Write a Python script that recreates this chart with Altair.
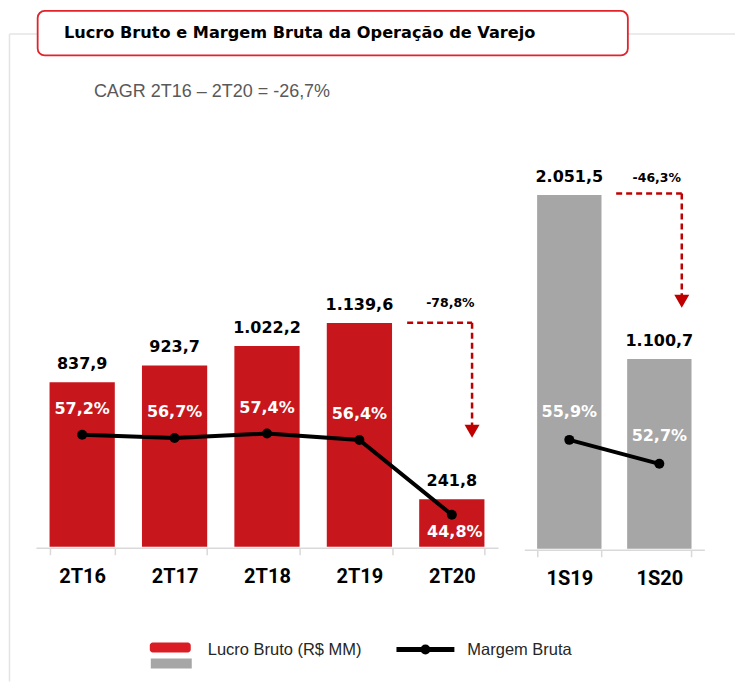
import altair as alt
import pandas as pd

# ---------------- data ----------------
periodos_trim = ["2T16", "2T17", "2T18", "2T19", "2T20"]
lucro_trim = [837.9, 923.7, 1022.2, 1139.6, 241.8]
margem_trim = [57.2, 56.7, 57.4, 56.4, 44.8]

periodos_sem = ["1S19", "1S20"]
lucro_sem = [2051.5, 1100.7]
margem_sem = [55.9, 52.7]

titulo = "Lucro Bruto e Margem Bruta da Operação de Varejo"
cagr_txt = "CAGR 2T16 – 2T20 = -26,7%"
var_trim_txt = "-78,8%"
var_sem_txt = "-46,3%"
leg_barras = "Lucro Bruto (R$ MM)"
leg_linha = "Margem Bruta"


def br(v):
    s = f"{v:,.1f}"
    return s.replace(",", "X").replace(".", ",").replace("X", ".")


def pct(v):
    return f"{v:.1f}".replace(".", ",") + "%"


trim = pd.DataFrame({"periodo": periodos_trim, "lucro": lucro_trim, "margem": margem_trim})
trim["lucro_txt"] = [br(v) for v in lucro_trim]
trim["margem_txt"] = [pct(v) for v in margem_trim]
sem = pd.DataFrame({"periodo": periodos_sem, "lucro": lucro_sem, "margem": margem_sem})
sem["lucro_txt"] = [br(v) for v in lucro_sem]
sem["margem_txt"] = [pct(v) for v in margem_sem]
one = pd.DataFrame({"k": [0]})

# ---------------- layout / style ----------------
OX, OY = 35, 60          # page position of plot origin


def px(x):
    return x - OX


def py(y):
    return y - OY


H = 487
W_L = 462.7
RED = "#C8161D"
GRAY = "#A6A6A6"
ARROW = "#C00000"
BOLD = "DejaVu Sans"
LABEL = "Roboto"
REG = "Liberation Sans"


def axis(offset, pad):
    return alt.Axis(title=None, orient="bottom", offset=offset, grid=False,
                    domainColor="#D9D9D9", domainWidth=1.5,
                    tickColor="#D9D9D9", tickWidth=1.5, tickSize=7, tickBand="extent",
                    labelFont=LABEL, labelFontSize=20, labelFontWeight="bold",
                    labelColor="black", labelPadding=pad, labelAngle=0)


sc_x_l = alt.Scale(domain=periodos_trim, range=[0, W_L], paddingInner=0.294, paddingOuter=0.147)
sc_x_r = alt.Scale(domain=periodos_sem, range=[489, 669.3], paddingInner=0.285, paddingOuter=0.1425)
sc_y_l = alt.Scale(domain=[0, 2477.6], range=[H, 0], nice=False)
sc_y_r = alt.Scale(domain=[0, 2831.5], range=[489, 0], nice=False)
sc_m_l = alt.Scale(domain=[40, 60], range=[485.9, 356.9], nice=False, zero=False)
sc_m_r = alt.Scale(domain=[40, 60], range=[499.25, 349.25], nice=False, zero=False)


def panel(df, sc_x, sc_y, sc_m, color, ax, mdy, special=None):
    xa = alt.X("periodo:N", sort=list(df["periodo"]), scale=sc_x, axis=ax)
    xn = alt.X("periodo:N", sort=list(df["periodo"]), scale=sc_x, axis=None)
    y = alt.Y("lucro:Q", scale=sc_y, axis=None)
    ym = alt.Y("margem:Q", scale=sc_m, axis=None)
    base = alt.Chart(df)
    layers = [
        base.mark_bar(color=color).encode(x=xa, y=y),
        base.mark_text(font=BOLD, fontWeight="bold", fontSize=16, dy=-18,
                       baseline="middle", color="black").encode(x=xn, y=y, text="lucro_txt"),
        base.mark_line(color="black", strokeWidth=4).encode(x=xn, y=ym),
        base.mark_circle(color="black", size=100, opacity=1).encode(x=xn, y=ym),
    ]
    if special is None:
        layers.append(base.mark_text(font=BOLD, fontWeight="bold", fontSize=16, dy=mdy,
                                     baseline="middle", color="white").encode(x=xn, y=ym, text="margem_txt"))
    else:
        layers.append(base.mark_text(font=BOLD, fontWeight="bold", fontSize=16, dy=mdy,
                                     baseline="middle", color="white")
                      .encode(x=xn, y=ym, text="margem_txt")
                      .transform_filter(alt.datum.periodo != special))
        layers.append(base.mark_text(font=BOLD, fontWeight="bold", fontSize=16, dy=17, dx=3,
                                     baseline="middle", color="white")
                      .encode(x=xn, y=ym, text="margem_txt")
                      .transform_filter(alt.datum.periodo == special))
    return layers


def hrule(x1, x2, y, **kw):
    return alt.Chart(one).mark_rule(**kw).encode(x=alt.value(px(x1)), x2=alt.value(px(x2)), y=alt.value(py(y)))


def vrule(x, y1, y2, **kw):
    return alt.Chart(one).mark_rule(**kw).encode(x=alt.value(px(x)), y=alt.value(py(y1)), y2=alt.value(py(y2)))


def rect(x1, x2, y1, y2, **kw):
    return alt.Chart(one).mark_rect(**kw).encode(x=alt.value(px(x1)), x2=alt.value(px(x2)),
                                                 y=alt.value(py(y1)), y2=alt.value(py(y2)))


def text(x, y, s, **kw):
    return alt.Chart(one).mark_text(**kw).encode(x=alt.value(px(x)), y=alt.value(py(y)), text=alt.value(s))


def tri(x, y):
    return alt.Chart(one).mark_point(shape="triangle-down", filled=True, size=225, color=ARROW,
                                     opacity=1).encode(x=alt.value(px(x)), y=alt.value(py(y)))


FRAME = "#E4E4E4"
layers = [
    # anchor for page origin
    rect(8, 9, 8, 9, opacity=0),
    # frame
    vrule(8.5, 33.5, 682, color=FRAME, strokeWidth=1.5),
    hrule(8.5, 735, 33.5, color=FRAME, strokeWidth=1.5),
    # title box
    rect(36.7, 627.7, 10.5, 55, fill="white", stroke="#E2232B", strokeWidth=1.8, cornerRadius=7),
    text(63, 33, titulo, font=BOLD, fontWeight="bold", fontSize=16.2, align="left", baseline="middle",
         color="black"),
    text(93, 92, cagr_txt, font=REG, fontSize=18, align="left", baseline="middle", color="#595959"),
]
layers += panel(trim, sc_x_l, sc_y_l, sc_m_l, RED, axis(1, 12), -26, special="2T20")
layers += panel(sem, sc_x_r, sc_y_r, sc_m_r, GRAY, axis(3, 12), -28)

dash = dict(color=ARROW, strokeWidth=2.5, strokeDash=[6, 4])
layers += [
    hrule(406.7, 471.7, 322.7, **dash),
    vrule(471.7, 322.7, 429, **dash),
    tri(471.7, 431.3),
    text(450, 303, var_trim_txt, font=BOLD, fontWeight="bold", fontSize=12.5, baseline="middle",
         color="black"),
    hrule(616, 681.7, 193.3, **dash),
    vrule(681.7, 193.3, 299, **dash),
    tri(681.7, 301.3),
    text(656.7, 178, var_sem_txt, font=BOLD, fontWeight="bold", fontSize=12.5, baseline="middle",
         color="black"),
    # legend
    rect(149, 190, 643, 653, fill="#DA1D25", cornerRadius=3),
    rect(150, 191, 659, 669, fill=GRAY),
    text(207, 650, leg_barras, font=REG, fontSize=16.5, align="left", baseline="middle", color="#262626"),
    hrule(396, 454, 650, color="black", strokeWidth=5),
    alt.Chart(one).mark_circle(color="black", size=100, opacity=1).encode(
        x=alt.value(px(425)), y=alt.value(py(650))),
    text(467, 650, leg_linha, font=REG, fontSize=16.5, align="left", baseline="middle", color="#262626"),
]

chart = (
    alt.layer(*layers)
    .resolve_scale(x="independent", y="independent")
    .properties(width=670, height=H, padding=0)
    .configure_view(stroke=None)
)

chart.save("out.html", embed_options={"renderer": "svg", "actions": False})
